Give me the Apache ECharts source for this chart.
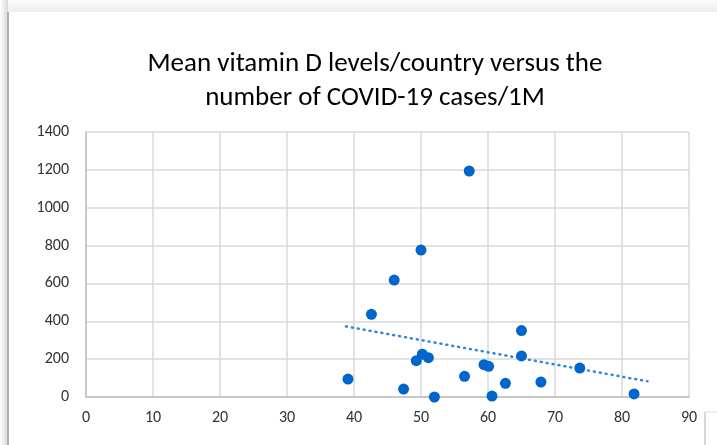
<!DOCTYPE html>
<html>
<head>
<meta charset="utf-8">
<script src="https://cdn.jsdelivr.net/npm/echarts@6/dist/echarts.min.js"></script>
<style>
  html, body { margin: 0; padding: 0; background: #fff; }
  #main { width: 717px; height: 445px; }
</style>
</head>
<body>
<div id="main"></div>
<script>
// 数据：维生素D均值 (x) 与每百万人病例数 (y)
const vitaminD = [39.1, 42.6, 46.0, 47.4, 49.3, 50.0, 50.2, 51.1, 52.0, 56.5,
                  57.2, 59.4, 60.1, 60.6, 62.6, 65.0, 65.0, 67.9, 73.7, 81.8];
const casesPer1M = [95, 437, 618, 42, 192, 776, 226, 208, 0, 109,
                    1194, 171, 162, 5, 72, 351, 217, 79, 153, 16];
// 趋势线两端
const trendX = [38.8, 83.8];
const trendY = [373, 83];
const xTicks = [0, 10, 20, 30, 40, 50, 60, 70, 80, 90];
const yTicks = [0, 200, 400, 600, 800, 1000, 1200, 1400];

const points = vitaminD.map((v, i) => [v, casesPer1M[i]]);
const trend = trendX.map((v, i) => [v, trendY[i]]);

const labelFont = 'Carlito, "Liberation Sans Narrow", "Open Sans", sans-serif';

var myChart = echarts.init(document.getElementById('main'));
var option = {
  backgroundColor: '#fff',
  animation: false,
  title: {
    text: 'Mean vitamin D levels/country versus the\nnumber of COVID-19 cases/1M',
    left: 370,
    textAlign: 'center',
    top: 42,
    textStyle: {
      fontFamily: labelFont,
      fontSize: 27,
      fontWeight: 'normal',
      color: '#000',
      lineHeight: 34
    }
  },
  grid: { left: 86, right: 28, top: 132, bottom: 48 },
  xAxis: {
    type: 'value',
    min: xTicks[0],
    max: xTicks[xTicks.length - 1],
    interval: 10,
    axisLine: { lineStyle: { color: '#bfbfbf', width: 1.5 } },
    axisTick: { show: false },
    splitLine: { lineStyle: { color: '#d9d9d9', width: 1.5 } },
    axisLabel: { color: '#333', fontSize: 16, fontFamily: labelFont, margin: 13,
                 formatter: v => String(v) }
  },
  yAxis: {
    type: 'value',
    min: yTicks[0],
    max: yTicks[yTicks.length - 1],
    interval: 200,
    axisLine: { show: true, lineStyle: { color: '#bfbfbf', width: 1.5 } },
    axisTick: { show: false },
    splitLine: { lineStyle: { color: '#d9d9d9', width: 1.5 } },
    axisLabel: { color: '#333', fontSize: 16, fontFamily: labelFont, margin: 17,
                 formatter: v => String(v) }
  },
  series: [
    {
      type: 'line',
      data: trend,
      symbol: 'none',
      lineStyle: { color: '#2e86de', width: 2.5, type: [1, 5], cap: 'round' },
      z: 2
    },
    {
      type: 'scatter',
      data: points,
      symbolSize: 11,
      itemStyle: { color: '#0066cc', opacity: 1 },
      z: 3
    }
  ],
  graphic: [
    // 顶部阴影
    { type: 'rect', shape: { x: 0, y: 0, width: 717, height: 12 },
      style: { fill: new echarts.graphic.LinearGradient(0, 0, 0, 1, [
        { offset: 0, color: '#fafafa' }, { offset: 1, color: '#eeeeee' }]) } },
    // 左侧阴影
    { type: 'rect', shape: { x: 0, y: 0, width: 8, height: 445 },
      style: { fill: new echarts.graphic.LinearGradient(0, 0, 1, 0, [
        { offset: 0, color: '#ffffff' }, { offset: 1, color: '#d8d8d8' }]) } },
    { type: 'line', shape: { x1: 8, y1: 12, x2: 8, y2: 445 },
      style: { stroke: '#b0b0b0', lineWidth: 2 } },
    // 右下角
    { type: 'line', shape: { x1: 705, y1: 412, x2: 705, y2: 445 },
      style: { stroke: '#c8c8c8', lineWidth: 1.5 } },
    { type: 'line', shape: { x1: 705, y1: 412, x2: 717, y2: 412 },
      style: { stroke: '#e0e0e0', lineWidth: 1 } }
  ]
};
myChart.setOption(option);
</script>
</body>
</html>
